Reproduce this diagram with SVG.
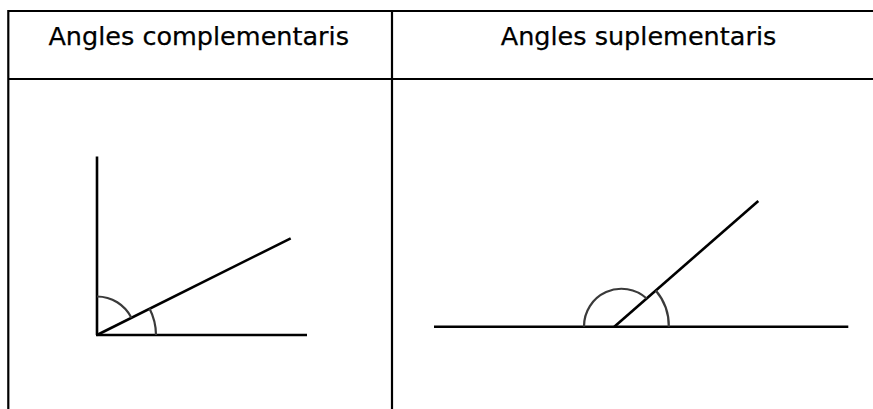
<svg xmlns="http://www.w3.org/2000/svg" width="873" height="409" viewBox="0 0 873 409">
<style>
.grid{stroke:#000;stroke-width:2.2;fill:none}
.ray{stroke:#000;stroke-width:2.6;fill:none;stroke-linecap:butt}
.arc{stroke:#3a3a3a;stroke-width:2.2;fill:none}
.hd{font-family:"DejaVu Sans",sans-serif;font-size:25.5px;fill:#000;stroke:#000;stroke-width:0.25;text-anchor:middle}
</style>
<rect width="873" height="409" fill="#fff"/>
<g id="table">
<line class="grid" x1="8.3" y1="11" x2="873" y2="11"/>
<line class="grid" x1="8.3" y1="79" x2="873" y2="79"/>
<line class="grid" x1="8.3" y1="10" x2="8.3" y2="409"/>
<line class="grid" x1="392" y1="10" x2="392" y2="409"/>
</g>
<g id="header-left"><text class="hd" x="198.7" y="45">Angles complementaris</text></g>
<g id="header-right"><text class="hd" x="638.5" y="45">Angles suplementaris</text></g>
<g id="complementary">
<line class="ray" x1="97" y1="156.5" x2="97" y2="335"/>
<line class="ray" x1="96" y1="335" x2="307" y2="335"/>
<line class="ray" x1="97" y1="335" x2="290.7" y2="238.3"/>
<path class="arc" d="M97 296.5 A38.5 38.5 0 0 1 131.4 317.8"/>
<path class="arc" d="M149.5 308.6 A59 59 0 0 1 156 335"/>
</g>
<g id="supplementary">
<line class="ray" x1="434" y1="326.7" x2="848.3" y2="326.7"/>
<line class="ray" x1="614.3" y1="326.7" x2="758.3" y2="201"/>
<path class="arc" d="M584 326.7 A37.5 37.5 0 0 1 646.7 298.5"/>
<path class="arc" d="M655.8 290.5 A55 55 0 0 1 668.8 326.7"/>
</g>
</svg>
